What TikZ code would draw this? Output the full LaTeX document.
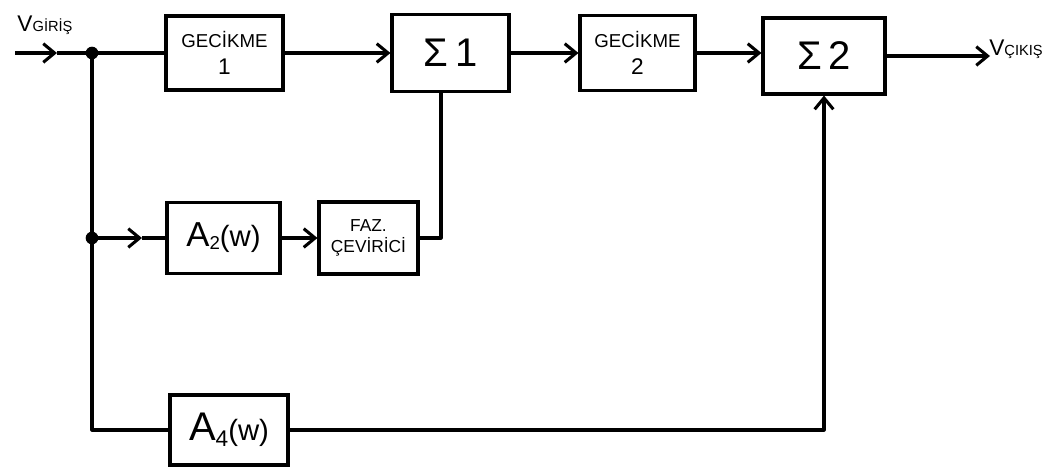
\documentclass[tikz,border=0pt]{standalone}
\usepackage{fontspec}
\setmainfont{Liberation Sans}
\usetikzlibrary{arrows.meta}
\newcommand{\lowsub}[2]{\raisebox{-#1}{#2}}
\begin{document}
\begin{tikzpicture}[x=0.75pt,y=-0.75pt,
  blk/.style={draw, line width=2.3pt, inner sep=0pt, align=center},
  wire/.style={line width=2.3pt, line join=round},
  arr/.style={wire, -{Straight Barb[length=8.5pt,width=14pt]}},
  jdot/.style={circle, fill, inner sep=0pt, minimum size=9.5pt},
  lbl/.style={inner sep=0pt}]
\useasboundingbox (0,0) rectangle (1059,468);
% top row
\node[blk, minimum width=87.75pt, minimum height=55.5pt, font=\fontsize{14}{16}\selectfont] (g1) at (224.5,53)
  {GECİKME\\[4pt]{\fontsize{17}{19}\selectfont 1}};
\node[blk, minimum width=87.75pt, minimum height=57.75pt, font=\fontsize{30}{34}\selectfont] (s1) at (450.5,53)
  {Σ\,1};
\node[blk, minimum width=86.25pt, minimum height=56.25pt, font=\fontsize{14}{16}\selectfont] (g2) at (637.5,53)
  {GECİKME\\[4pt]{\fontsize{17}{19}\selectfont 2}};
\node[blk, minimum width=91.5pt, minimum height=57pt, font=\fontsize{30}{34}\selectfont] (s2) at (824,56)
  {Σ\,2};
% middle row
\node[blk, minimum width=84.75pt, minimum height=53.25pt, font=\fontsize{26}{30}\selectfont] (a2) at (223.5,238)
  {A\lowsub{2pt}{\fontsize{14}{16}\selectfont 2}{\fontsize{22}{26}\selectfont (w)}};
\node[blk, minimum width=74.25pt, minimum height=54pt, font=\fontsize{13}{15}\selectfont] (faz) at (368.5,238)
  {FAZ.\\[1pt]ÇEVİRİCİ};
% bottom row
\node[blk, minimum width=88.5pt, minimum height=52.5pt, font=\fontsize{30}{34}\selectfont] (a4) at (229,430)
  {A\lowsub{4pt}{\fontsize{17}{20}\selectfont 4}{\fontsize{22}{26}\selectfont (w)}};
% labels
\node[lbl, font=\fontsize{17}{20}\selectfont] (vin) at (45,25) {V{\fontsize{11}{13}\selectfont GİRİŞ}};
\node[lbl, font=\fontsize{17}{20}\selectfont] (vout) at (1016,49) {V{\fontsize{11}{13}\selectfont ÇIKIŞ}};
% junctions and bends
\node[jdot] (j1) at (92,53) {};
\node[jdot] (j2) at (92,238) {};
\coordinate (in0) at (15,53);
\coordinate (inm) at (57,53);
\coordinate (a2m) at (142,238);
\coordinate (c3) at (92,430);
\coordinate (c1) at (441,238);
\coordinate (c2) at (824,430);
\coordinate (out) at (990,56);
% connectors
\draw[arr] (in0) -- (inm);
\draw[wire] (inm) -- (j1.center) -- (g1.west);
\draw[wire] (j1.center) -- (j2.center) -- (c3) -- (a4.west);
\draw[arr] (j2.center) -- (a2m);
\draw[wire] (a2m) -- (a2.west);
\draw[arr] (a2) -- (faz);
\draw[wire] (faz.east) -- (c1) -- (c1 |- s1.south);
\draw[arr] (g1) -- (s1);
\draw[arr] (s1) -- (g2);
\draw[arr] (g2.east |- s1) -- (s2.west |- s1);
\draw[arr] (s2.east) -- (out);
\draw[arr] (a4.east) -- (c2) -- (s2.south);
\end{tikzpicture}
\end{document}
